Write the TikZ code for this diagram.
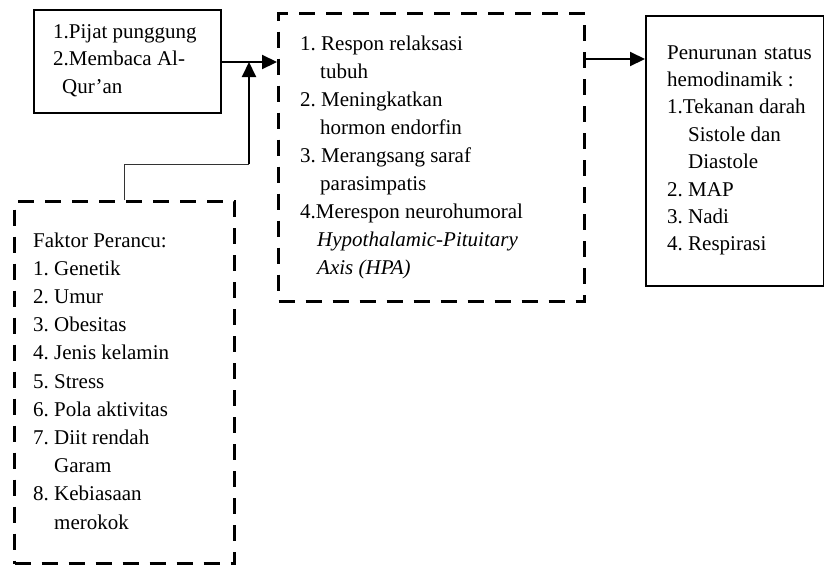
\documentclass[tikz,border=0pt]{standalone}
\usepackage{fontspec}
\setmainfont{Liberation Serif}
\usetikzlibrary{arrows.meta}
\frenchspacing
\begin{document}
\begin{tikzpicture}[x=1pt,y=-1pt,
  solidbox/.style={draw, line width=2.2pt, rectangle, inner sep=0pt, anchor=north west},
  dashbox/.style={draw, line width=3.2pt, dash pattern=on 16pt off 11pt, rectangle, inner sep=0pt, anchor=north west},
  txt/.style={anchor=base west, inner sep=0pt},
  arr/.style={line width=2.2pt, -{Triangle[length=15pt,width=14pt]}},
]
\useasboundingbox (0,0) rectangle (824,566);
% boxes
\node[solidbox, minimum width=187pt, minimum height=103pt] (b1) at (33,9) {};
\node[dashbox, minimum width=306pt, minimum height=288pt] (b2) at (277,12) {};
\node[solidbox, minimum width=178pt, minimum height=270pt] (b3) at (645,15) {};
\node[dashbox, minimum width=220pt, minimum height=362pt] (b4) at (13,200) {};
% texts
\node[txt, font=\fontsize{21}{27.5}\selectfont] (t1) at (53,38) {\begin{tabular}[t]{@{}l@{}}1.Pijat punggung\\2.Membaca Al-\\\hspace*{9pt}Qur’an\end{tabular}};
\node[txt, font=\fontsize{21}{28}\selectfont] (t2) at (300,50) {\begin{tabular}[t]{@{}l@{}}1. Respon relaksasi\\\hspace*{20pt}tubuh\\2. Meningkatkan\\\hspace*{20pt}hormon endorfin\\3. Merangsang saraf\\\hspace*{20pt}parasimpatis\\4.Merespon neurohumoral\\\hspace*{17pt}\textit{Hypothalamic-Pituitary}\\\hspace*{17pt}\textit{Axis (HPA)}\end{tabular}};
\node[txt, font=\fontsize{21}{27.4}\selectfont] (t3) at (667,59) {\begin{tabular}[t]{@{}l@{}}Penurunan\hspace{7pt}status\\hemodinamik :\\1.Tekanan darah\\\hspace*{21pt}Sistole dan\\\hspace*{21pt}Diastole\\2. MAP\\3. Nadi\\4. Respirasi\end{tabular}};
\node[txt, font=\fontsize{21}{28.2}\selectfont] (t4) at (33,247) {\begin{tabular}[t]{@{}l@{}}Faktor Perancu:\\1. Genetik\\2. Umur\\3. Obesitas\\4. Jenis kelamin\\5. Stress\\6. Pola aktivitas\\7. Diit rendah\\\hspace*{21pt}Garam\\8. Kebiasaan\\\hspace*{21pt}merokok\end{tabular}};
% connectors
\coordinate (j) at (249,62);
\coordinate (k) at (249,164);
\draw[arr] (b1.east |- j) -- (b2.west |- j);
\draw[line width=1pt, black!80] (b4.north) |- (k);
\draw[arr, line width=2pt] (k) -- (j);
\draw[arr, line width=2pt] (b2.east |- 0,59) -- (b3.west |- 0,59);
\end{tikzpicture}
\end{document}
